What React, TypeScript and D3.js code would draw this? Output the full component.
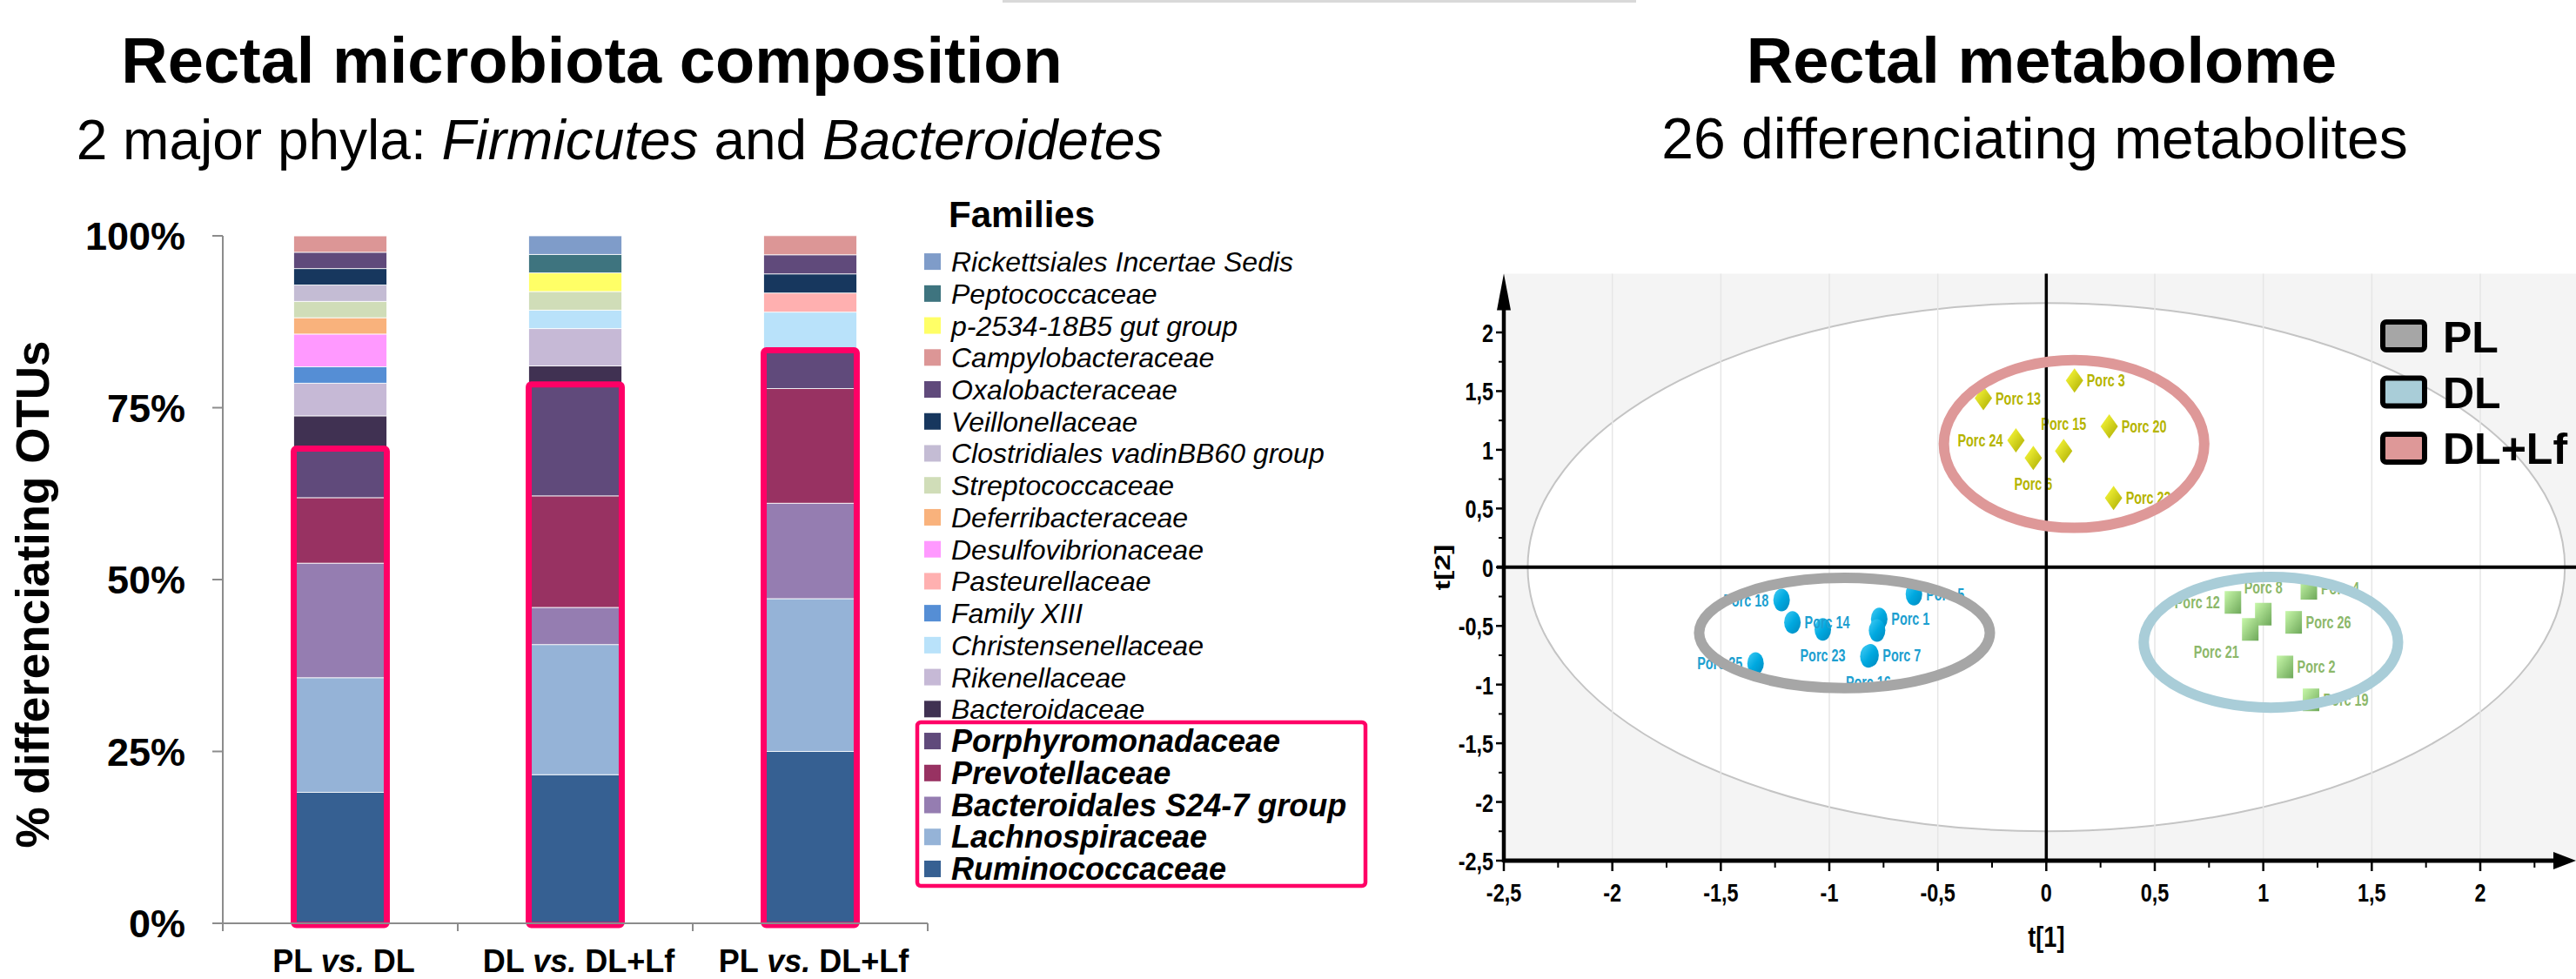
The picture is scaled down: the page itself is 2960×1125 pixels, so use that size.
import React from "react";
import * as d3 from "d3";

// ---------- left panel: differentiating OTUs by family ----------
const comparisons = ["PL vs. DL", "DL vs. DL+Lf", "PL vs. DL+Lf"];

// stacking order, bottom to top
const families = [
  "Ruminococcaceae",
  "Lachnospiraceae",
  "Bacteroidales S24-7 group",
  "Prevotellaceae",
  "Porphyromonadaceae",
  "Bacteroidaceae",
  "Rikenellaceae",
  "Christensenellaceae",
  "Family XIII",
  "Pasteurellaceae",
  "Desulfovibrionaceae",
  "Deferribacteraceae",
  "Streptococcaceae",
  "Clostridiales vadinBB60 group",
  "Veillonellaceae",
  "Oxalobacteraceae",
  "Campylobacteraceae",
  "p-2534-18B5 gut group",
  "Peptococcaceae",
  "Rickettsiales Incertae Sedis",
];

const familyColors = [
  "#366092", "#95b3d7", "#957db1", "#983262", "#604a7b",
  "#403152", "#c6b9d6", "#b9e2fa", "#558ed5", "#ffb0b0",
  "#ff99ff", "#f9b27c", "#d0ddb8", "#c4bcd4", "#17375e",
  "#604a7b", "#dc9696", "#ffff66", "#3e747f", "#7f9cc9",
];

// the 5 major families (framed in pink)
const majorCount = 5;

// % of differentiating OTUs, same order as families
const plVsDl = [19.05, 16.67, 16.67, 9.52, 7.14, 4.76, 4.76, 0, 2.38, 0, 4.76, 2.38, 2.38, 2.38, 2.38, 2.38, 2.38, 0, 0, 0];
const dlVsDlLf = [21.62, 18.92, 5.41, 16.22, 16.22, 2.7, 5.41, 2.7, 0, 0, 0, 0, 2.7, 0, 0, 0, 0, 2.7, 2.7, 2.7];
const plVsDlLf = [25.0, 22.22, 13.89, 16.67, 5.56, 0, 0, 5.56, 0, 2.78, 0, 0, 0, 0, 2.78, 2.78, 2.78, 0, 0, 0];

const pctTicks = [0, 25, 50, 75, 100];

// ---------- right panel: PCA score plot ----------
const plScores = [
  { name: "Porc 18", t1: -1.22, t2: -0.28 },
  { name: "Porc 14", t1: -1.17, t2: -0.47 },
  { name: "Porc 23", t1: -1.03, t2: -0.53 },
  { name: "Porc 1", t1: -0.77, t2: -0.44 },
  { name: "", t1: -0.78, t2: -0.54 },
  { name: "Porc 5", t1: -0.61, t2: -0.23 },
  { name: "Porc 16", t1: -0.82, t2: -0.76 },
  { name: "Porc 7", t1: -0.81, t2: -0.75 },
  { name: "Porc 25", t1: -1.34, t2: -0.82 },
];
const dlScores = [
  { name: "Porc 12", t1: 0.86, t2: -0.3 },
  { name: "Porc 8", t1: 1.0, t2: -0.4 },
  { name: "Porc 21", t1: 0.94, t2: -0.53 },
  { name: "Porc 4", t1: 1.21, t2: -0.18 },
  { name: "Porc 26", t1: 1.14, t2: -0.47 },
  { name: "Porc 2", t1: 1.1, t2: -0.85 },
  { name: "Porc 19", t1: 1.22, t2: -1.13 },
];
const dlLfScores = [
  { name: "Porc 3", t1: 0.13, t2: 1.59 },
  { name: "Porc 13", t1: -0.29, t2: 1.44 },
  { name: "Porc 24", t1: -0.14, t2: 1.08 },
  { name: "Porc 6", t1: -0.06, t2: 0.93 },
  { name: "Porc 15", t1: 0.08, t2: 0.99 },
  { name: "Porc 20", t1: 0.29, t2: 1.2 },
  { name: "Porc 22", t1: 0.31, t2: 0.59 },
];

// where each point label sits: r right, l left, b below, a above, bl below-left
const labelSide: Record<string, string> = {
  "Porc 18": "l", "Porc 14": "r", "Porc 23": "b", "Porc 1": "r", "Porc 5": "r",
  "Porc 16": "b", "Porc 7": "r", "Porc 25": "l",
  "Porc 12": "l", "Porc 8": "a", "Porc 21": "bl", "Porc 4": "r", "Porc 26": "r",
  "Porc 2": "r", "Porc 19": "r",
  "Porc 3": "r", "Porc 13": "r", "Porc 24": "l", "Porc 6": "b", "Porc 15": "a",
  "Porc 20": "r", "Porc 22": "r",
};

const groups = ["PL", "DL", "DL+Lf"];
const groupColors = ["#a6a6a6", "#a9cdd8", "#de9898"];
// hand drawn group ellipses, in score units
const groupRings = [
  { cx: -0.93, cy: -0.56, rx: 0.67, ry: 0.47 },
  { cx: 1.035, cy: -0.64, rx: 0.586, ry: 0.557 },
  { cx: 0.128, cy: 1.05, rx: 0.6, ry: 0.715 },
];
// Hotelling T2 (95%) ellipse radii
const hotelling = { rx: 2.39, ry: 2.25 };

const scoreTicks = [-2.5, -2, -1.5, -1, -0.5, 0, 0.5, 1, 1.5, 2];

const FONT = "'Liberation Sans', Arial, Helvetica, sans-serif";
const fmtComma = (v: number) => String(v).replace(".", ",");

function BarPanel() {
  const x = d3
    .scaleBand<string>()
    .domain(comparisons)
    .range([256, 1066])
    .paddingInner(0.604)
    .paddingOuter(0.302);
  const y = d3.scaleLinear().domain([0, 100]).range([1061, 271]);

  const seriesByComparison = [plVsDl, dlVsDlLf, plVsDlLf];
  const rows = comparisons.map((c, i) => {
    const row: Record<string, any> = { comparison: c };
    families.forEach((f, j) => (row[f] = seriesByComparison[i][j]));
    return row;
  });
  const stacked = d3.stack<Record<string, any>>().keys(families)(rows);

  const bandEdges = d3.range(comparisons.length + 1).map((i) => x.range()[0] + i * x.step());
  const legendOrder = families.map((f, i) => ({ f, c: familyColors[i], major: i < majorCount })).reverse();
  const rowY = (i: number) => 300.6 + i * 36.73;

  return (
    <g>
      <text x={680} y={95} textAnchor="middle" fontSize={74} fontWeight="bold">
        Rectal microbiota composition
      </text>
      <text x={712} y={183} textAnchor="middle" fontSize={64}>
        2 major phyla: <tspan fontStyle="italic">Firmicutes</tspan> and{" "}
        <tspan fontStyle="italic">Bacteroidetes</tspan>
      </text>

      {/* bars */}
      {stacked.map((layer, k) => (
        <g key={layer.key}>
          {layer.map((d, i) =>
            d[1] - d[0] > 0 ? (
              <rect
                key={i}
                x={x(comparisons[i])}
                y={y(d[1])}
                width={x.bandwidth()}
                height={y(d[0]) - y(d[1])}
                fill={familyColors[k]}
                stroke="#ffffff"
                strokeWidth={0.8}
              />
            ) : null
          )}
        </g>
      ))}

      {/* frame around the 5 major families */}
      {comparisons.map((c, i) => {
        const top = stacked[majorCount - 1][i][1];
        return (
          <rect
            key={c}
            x={x(c)}
            y={y(top)}
            width={x.bandwidth()}
            height={y(0) - y(top) + 2}
            fill="none"
            stroke="#ff0066"
            strokeWidth={7}
            rx={3}
          />
        );
      })}

      {/* axes */}
      <line x1={256} x2={256} y1={y(100)} y2={y(0)} stroke="#8c8c8c" strokeWidth={2} />
      <line x1={256} x2={1066} y1={y(0)} y2={y(0)} stroke="#8c8c8c" strokeWidth={2} />
      {pctTicks.map((t) => (
        <g key={t}>
          <line x1={244} x2={256} y1={y(t)} y2={y(t)} stroke="#8c8c8c" strokeWidth={2} />
          <text x={213} y={y(t) + 16} textAnchor="end" fontSize={45} fontWeight="bold">
            {t}%
          </text>
        </g>
      ))}
      {bandEdges.map((bx, i) => (
        <line key={i} x1={bx} x2={bx} y1={y(0)} y2={y(0) + 9} stroke="#8c8c8c" strokeWidth={2} />
      ))}
      {comparisons.map((c) => {
        const [a, b] = c.split(" vs. ");
        return (
          <text
            key={c}
            x={(x(c) as number) + x.bandwidth() / 2 + 4}
            y={1117}
            textAnchor="middle"
            fontSize={36}
            fontWeight="bold"
          >
            {a} <tspan fontStyle="italic">vs.</tspan> {b}
          </text>
        );
      })}
      <text
        transform="translate(56,683) rotate(-90)"
        textAnchor="middle"
        fontSize={53}
        fontWeight="bold"
      >
        % differenciating OTUs
      </text>

      {/* legend */}
      <text x={1090} y={261} fontSize={42} fontWeight="bold">
        Families
      </text>
      {legendOrder.map((d, i) => (
        <g key={d.f}>
          <rect x={1062} y={rowY(i) - 9.5} width={19} height={19} fill={d.c} />
          <text
            x={1093}
            y={rowY(i) + (d.major ? 12.5 : 11.5)}
            fontSize={d.major ? 36 : 32}
            fontStyle="italic"
            fontWeight={d.major ? "bold" : "normal"}
          >
            {d.f}
          </text>
        </g>
      ))}
      <rect x={1054} y={830} width={515} height={188} fill="none" stroke="#ff0066" strokeWidth={4.5} rx={4} />
    </g>
  );
}

function ScorePanel() {
  const x = d3.scaleLinear().domain([-2.5, 2]).range([1728, 2850]);
  const y = d3.scaleLinear().domain([-2.5, 2]).range([989, 382]);
  const right = 2960;
  const top = y(2.5);
  const bottom = y(-2.5);
  const minorX = d3.range(-2.25, 2.4, 0.5);
  const minorY = d3.range(-2.25, 2.4, 0.5);

  const allGroups = [plScores, dlScores, dlLfScores];
  const labelColors = ["#1d9fd0", "#8cb86a", "#b5b400"];

  const placeLabel = (px: number, py: number, side: string) => {
    switch (side) {
      case "l":
        return { lx: px - 15, ly: py + 7, anchor: "end" };
      case "b":
        return { lx: px, ly: py + 37, anchor: "middle" };
      case "a":
        return { lx: px, ly: py - 24, anchor: "middle" };
      case "bl":
        return { lx: px - 39, ly: py + 33, anchor: "middle" };
      default:
        return { lx: px + 14, ly: py + 7, anchor: "start" };
    }
  };

  const marker = (g: number, px: number, py: number, key: string) => {
    if (g === 0) return <ellipse key={key} cx={px} cy={py} rx={9.5} ry={13} fill="url(#gPL)" />;
    if (g === 1) return <rect key={key} x={px - 9.5} y={py - 13} width={19} height={26} fill="url(#gDL)" />;
    return (
      <path
        key={key}
        d={`M${px},${py - 14}L${px + 10},${py}L${px},${py + 14}L${px - 10},${py}Z`}
        fill="url(#gLF)"
      />
    );
  };

  return (
    <g>
      <defs>
        <linearGradient id="gPL" x1="0" y1="0" x2="1" y2="1">
          <stop offset="0" stopColor="#45cdf5" />
          <stop offset="0.5" stopColor="#00a9e0" />
          <stop offset="1" stopColor="#0088bd" />
        </linearGradient>
        <linearGradient id="gDL" x1="0" y1="0" x2="1" y2="1">
          <stop offset="0" stopColor="#c8f8aa" />
          <stop offset="1" stopColor="#6ea85a" />
        </linearGradient>
        <linearGradient id="gLF" x1="0" y1="0" x2="1" y2="1">
          <stop offset="0" stopColor="#ffff40" />
          <stop offset="1" stopColor="#aaaa00" />
        </linearGradient>
      </defs>

      <text x={2346} y={95} textAnchor="middle" fontSize={74} fontWeight="bold">
        Rectal metabolome
      </text>
      <text x={2338} y={182} textAnchor="middle" fontSize={66}>
        26 differenciating metabolites
      </text>

      {/* plot background + Hotelling ellipse */}
      <rect x={x(-2.5)} y={top} width={right - x(-2.5)} height={bottom - top} fill="#f4f4f4" />
      <ellipse
        cx={x(0)}
        cy={y(0)}
        rx={x(hotelling.rx) - x(0)}
        ry={y(0) - y(hotelling.ry)}
        fill="#ffffff"
        stroke="#c4c4c4"
        strokeWidth={2}
      />
      {scoreTicks.slice(1).map((t) => (
        <line key={t} x1={x(t)} x2={x(t)} y1={top} y2={bottom} stroke="#e6e6e6" strokeWidth={1.5} />
      ))}

      {/* points and labels */}
      {allGroups.map((pts, g) => (
        <g key={g}>
          {pts.map((p, i) => marker(g, x(p.t1), y(p.t2), `m${i}`))}
          {pts.map((p, i) => {
            if (!p.name) return null;
            const { lx, ly, anchor } = placeLabel(x(p.t1), y(p.t2), labelSide[p.name] || "r");
            return (
              <text
                key={`t${i}`}
                transform={`translate(${lx},${ly}) scale(0.72,1)`}
                textAnchor={anchor}
                fontSize={20}
                fontWeight="bold"
                fill={labelColors[g]}
              >
                {p.name}
              </text>
            );
          })}
        </g>
      ))}

      {/* zero lines */}
      <line x1={x(-2.5) - 8} x2={right} y1={y(0)} y2={y(0)} stroke="#000" strokeWidth={4} />
      <line x1={x(0)} x2={x(0)} y1={top} y2={bottom} stroke="#000" strokeWidth={3.5} />

      {/* axes with arrows */}
      <line x1={x(-2.5)} x2={x(-2.5)} y1={top + 30} y2={bottom + 2} stroke="#000" strokeWidth={4.5} />
      <path d={`M${x(-2.5)},${top}L${x(-2.5) + 8},${top + 42}L${x(-2.5) - 8},${top + 42}Z`} fill="#000" />
      <line x1={x(-2.5)} x2={right - 20} y1={bottom} y2={bottom} stroke="#000" strokeWidth={5} />
      <path d={`M${right},${bottom}L${right - 26},${bottom - 10}L${right - 26},${bottom + 10}Z`} fill="#000" />

      {scoreTicks.map((t) => (
        <g key={t}>
          <line x1={x(t)} x2={x(t)} y1={bottom} y2={bottom + 12} stroke="#000" strokeWidth={2.5} />
          <text
            transform={`translate(${x(t)},${bottom + 47}) scale(0.78,1)`}
            textAnchor="middle"
            fontSize={30}
            fontWeight="bold"
          >
            {fmtComma(t)}
          </text>
          <line x1={x(-2.5) - 9} x2={x(-2.5)} y1={y(t)} y2={y(t)} stroke="#000" strokeWidth={2.5} />
          <text
            transform={`translate(${x(-2.5) - 12},${y(t) + 11}) scale(0.78,1)`}
            textAnchor="end"
            fontSize={30}
            fontWeight="bold"
          >
            {fmtComma(t)}
          </text>
        </g>
      ))}
      {minorX.map((t) => (
        <line key={`mx${t}`} x1={x(t)} x2={x(t)} y1={bottom} y2={bottom + 8} stroke="#000" strokeWidth={2} />
      ))}
      {minorY.map((t) => (
        <line key={`my${t}`} x1={x(-2.5) - 6} x2={x(-2.5)} y1={y(t)} y2={y(t)} stroke="#000" strokeWidth={2} />
      ))}

      <text transform={`translate(${x(0)},1088) scale(0.8,1)`} textAnchor="middle" fontSize={34} fontWeight="bold">
        t[1]
      </text>
      <text transform="translate(1666,652) rotate(-90) scale(1,0.7)" textAnchor="middle" fontSize={34} fontWeight="bold">
        t[2]
      </text>

      {/* group rings, drawn over the points */}
      {groupRings.map((r, i) => (
        <ellipse
          key={i}
          cx={x(r.cx)}
          cy={y(r.cy)}
          rx={x(r.cx + r.rx) - x(r.cx)}
          ry={y(r.cy) - y(r.cy + r.ry)}
          fill="none"
          stroke={groupColors[i]}
          strokeWidth={12}
        />
      ))}

      {/* group legend */}
      {groups.map((g, i) => (
        <g key={g}>
          <rect x={2738} y={370 + i * 64.5} width={48} height={32} rx={4} fill={groupColors[i]} stroke="#000" strokeWidth={6} />
          <text x={2807} y={405 + i * 64} fontSize={50} fontWeight="bold">
            {g}
          </text>
        </g>
      ))}
    </g>
  );
}

export default function App() {
  return (
    <svg
      width={2960}
      height={1125}
      style={{ position: "absolute", left: 0, top: 0, background: "#fff", fontFamily: FONT }}
    >
      <rect x={1152} y={0} width={728} height={3} fill="#d9d9d9" />
      <BarPanel />
      <ScorePanel />
    </svg>
  );
}
